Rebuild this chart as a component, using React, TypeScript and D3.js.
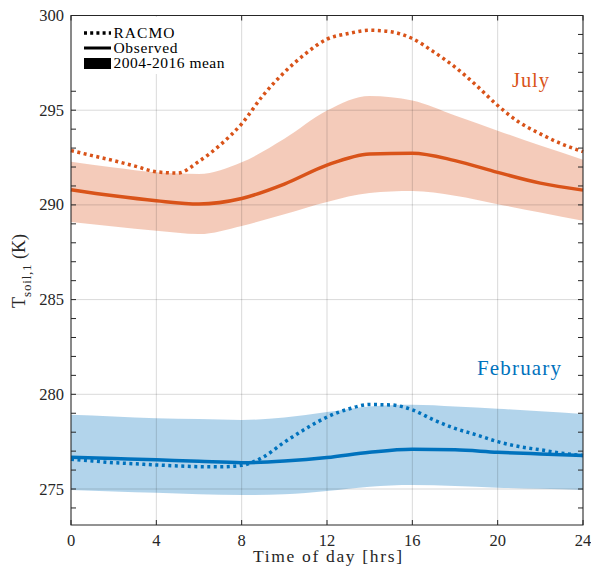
import React from "react";
import * as d3 from "d3";

const hoursBand = [0, 2, 4, 6, 8, 10, 12, 14, 16, 18, 20, 22, 24];
const hoursRacmo = [0, 1, 2, 3, 4, 5, 6, 7, 8, 9, 10, 11, 12, 13, 14, 15, 16, 17, 18, 19, 20, 21, 22, 23, 24];

const julyUpper = [292.28, 291.98, 291.72, 291.63, 292.25, 293.49, 294.98, 295.75, 295.51, 294.72, 293.92, 293.13, 292.39];
const julyLower = [289.1, 288.86, 288.63, 288.46, 288.89, 289.51, 290.16, 290.63, 290.73, 290.48, 290.04, 289.6, 289.16];
const julyObs = [290.8, 290.48, 290.22, 290.05, 290.34, 291.1, 292.1, 292.69, 292.73, 292.34, 291.72, 291.15, 290.78];
const julyRacmo = [292.87, 292.6, 292.34, 292.05, 291.75, 291.68, 292.3, 293.17, 294.28, 295.78, 297.0, 297.99, 298.75, 299.05, 299.22, 299.14, 298.78, 298.08, 297.28, 296.31, 295.25, 294.37, 293.75, 293.22, 292.81];

const febUpper = [278.92, 278.83, 278.74, 278.69, 278.65, 278.77, 279.06, 279.36, 279.45, 279.36, 279.24, 279.1, 278.96];
const febLower = [274.95, 274.87, 274.8, 274.73, 274.68, 274.72, 274.89, 275.12, 275.21, 275.16, 275.07, 275.01, 274.95];
const febObs = [276.68, 276.61, 276.54, 276.46, 276.39, 276.48, 276.66, 276.94, 277.1, 277.07, 276.94, 276.85, 276.77];
const febRacmo = [276.57, 276.48, 276.39, 276.33, 276.27, 276.22, 276.18, 276.17, 276.25, 276.68, 277.47, 278.18, 278.8, 279.22, 279.46, 279.44, 279.18, 278.65, 278.2, 277.86, 277.5, 277.24, 277.07, 276.89, 276.77];

const xTicks = [0, 4, 8, 12, 16, 20, 24];
const yTicks = [275, 280, 285, 290, 295, 300];
const yMinor = d3.range(274, 301, 1);
const legendLabels = ["RACMO", "Observed", "2004-2016 mean"];

const ORANGE = "#D95319";
const BLUE = "#0072BD";
const AX = "#262626";
const FONT = "Liberation Serif, Nimbus Roman, serif";

export default function App() {
  const left = 71, right = 583, top = 15.5, bottom = 525;
  const x = d3.scaleLinear().domain([0, 24]).range([left, right]);
  const y = d3.scaleLinear().domain([273.1, 300]).range([bottom, top]);

  const line = (hs: number[], vs: number[]) =>
    d3.line<number>().x((_, i) => x(hs[i])).y((v) => y(v)).curve(d3.curveMonotoneX)(vs) || "";
  const band = (hs: number[], lo: number[], hi: number[]) =>
    d3
      .area<number>()
      .x((_, i) => x(hs[i]))
      .y0((_, i) => y(lo[i]))
      .y1((v) => y(v))
      .curve(d3.curveMonotoneX)(hi) || "";

  const tl = 5;

  return (
    <svg width={591} height={567} style={{ position: "absolute", left: 0, top: 0, background: "#fff", fontFamily: FONT }}>
      <rect x={0} y={0} width={591} height={567} fill="#fff" />
      <path d={band(hoursBand, julyLower, julyUpper)} fill={ORANGE} fillOpacity={0.3} />
      <path d={band(hoursBand, febLower, febUpper)} fill={BLUE} fillOpacity={0.3} />
      <g stroke="#000" strokeOpacity={0.15} strokeWidth={1}>
        {xTicks.map((t) => (
          <line key={"gx" + t} x1={x(t)} x2={x(t)} y1={top} y2={bottom} />
        ))}
        {yTicks.map((t) => (
          <line key={"gy" + t} x1={left} x2={right} y1={y(t)} y2={y(t)} />
        ))}
      </g>
      <path d={line(hoursBand, julyObs)} fill="none" stroke={ORANGE} strokeWidth={3.5} />
      <path d={line(hoursRacmo, julyRacmo)} fill="none" stroke={ORANGE} strokeWidth={3.5} strokeDasharray="3 3.5" />
      <path d={line(hoursBand, febObs)} fill="none" stroke={BLUE} strokeWidth={3.5} />
      <path d={line(hoursRacmo, febRacmo)} fill="none" stroke={BLUE} strokeWidth={3.5} strokeDasharray="3 3.5" />

      <rect x={78} y={17} width={153} height={57} fill="#fff" />
      <g fontSize={15.5} fill="#000">
        <line x1={84} x2={111} y1={33} y2={33} stroke="#000" strokeWidth={3.5} strokeDasharray="3 3.2" />
        <line x1={84} x2={111} y1={48} y2={48} stroke="#000" strokeWidth={3} />
        <rect x={84} y={58} width={27} height={11} fill="#000" />
        <text x={113.5} y={37.5} textLength={61} lengthAdjust="spacing">{legendLabels[0]}</text>
        <text x={113.5} y={52.5} textLength={64} lengthAdjust="spacing">{legendLabels[1]}</text>
        <text x={113.5} y={67.5} textLength={111} lengthAdjust="spacing">{legendLabels[2]}</text>
      </g>

      <rect x={left} y={top} width={right - left} height={bottom - top} fill="none" stroke={AX} strokeWidth={1} />
      <g stroke={AX} strokeWidth={1}>
        {xTicks.map((t) => (
          <g key={"xt" + t}>
            <line x1={x(t)} x2={x(t)} y1={bottom} y2={bottom - tl} />
            {t !== 4 && <line x1={x(t)} x2={x(t)} y1={top} y2={top + tl} />}
          </g>
        ))}
        {yMinor.map((t) => (
          <g key={"yt" + t}>
            {!(t >= 296.5) && <line x1={left} x2={left + tl} y1={y(t)} y2={y(t)} />}
            <line x1={right} x2={right - tl} y1={y(t)} y2={y(t)} />
          </g>
        ))}
      </g>

      <g fontSize={16.5} fill={AX}>
        {xTicks.map((t) => (
          <text key={"xl" + t} x={x(t)} y={545.5} textAnchor="middle">
            {t}
          </text>
        ))}
        {yTicks.map((t) => (
          <text key={"yl" + t} x={64} y={y(t) + 5.5} textAnchor="end">
            {t}
          </text>
        ))}
      </g>

      <text x={253} y={562} fontSize={17.5} fill={AX} textLength={149} lengthAdjust="spacing">
        Time of day [hrs]
      </text>
      <text transform={`translate(25,271) rotate(-90)`} textAnchor="middle" fontSize={18} fill={AX}>
        T
        <tspan fontSize={13} dy={5.5} letterSpacing={0.8}>soil,1</tspan>
        <tspan dy={-5.5}> (K)</tspan>
      </text>

      <text x={512} y={87} fontSize={20.5} fill={ORANGE} textLength={37} lengthAdjust="spacing">
        July
      </text>
      <text x={477} y={375} fontSize={21} fill={BLUE} textLength={84} lengthAdjust="spacing">
        February
      </text>
    </svg>
  );
}
